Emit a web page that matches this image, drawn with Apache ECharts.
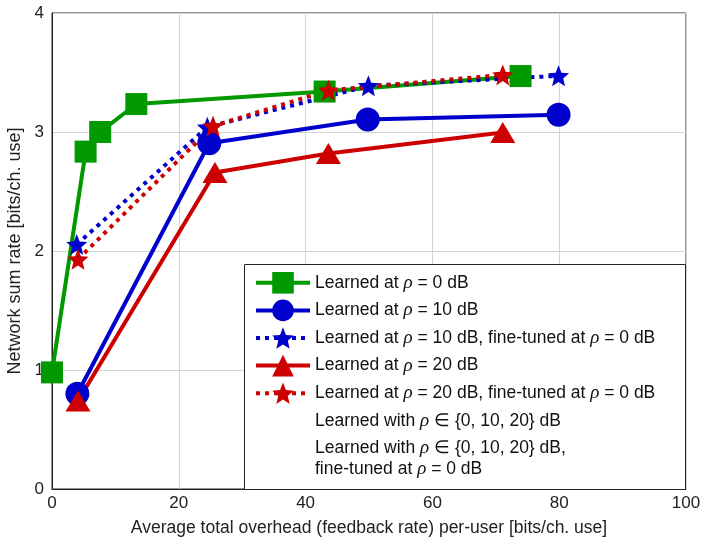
<!DOCTYPE html>
<html>
<head>
<meta charset="utf-8">
<script src="https://cdn.jsdelivr.net/npm/echarts@6/dist/echarts.min.js"></script>
<style>html,body{margin:0;padding:0;background:#fff}#c{width:702px;height:538px}</style>
</head>
<body>
<div id="c"></div>
<script>
// ---- data ----
const xTicks = [0, 20, 40, 60, 80, 100];
const yTicks = [0, 1, 2, 3, 4];
const seriesNames = [
  'Learned at rho=0',
  'Learned at rho=10',
  'Learned at rho=10 ft',
  'Learned at rho=20',
  'Learned at rho=20 ft',
  'Learned with set',
  'Learned with set ft'
];
const learned0 = [[0, 0.98], [5.3, 2.835], [7.6, 3.0], [13.3, 3.235], [43.0, 3.34], [73.9, 3.47]];
const learned10 = [[4.0, 0.80], [24.8, 2.905], [49.8, 3.105], [79.9, 3.145]];
const learned10ft = [[3.9, 2.055], [24.5, 3.04], [49.9, 3.388], [79.9, 3.472]];
const learned20 = [[4.1, 0.74], [25.7, 2.66], [43.6, 2.82], [71.1, 2.995]];
const learned20ft = [[4.1, 1.93], [25.4, 3.05], [43.6, 3.35], [71.1, 3.48]];
const learnedSet = [];
const learnedSetFt = [];

const legendLabels = {
  'Learned at rho=0': 'Learned at {i|ρ} = 0 dB',
  'Learned at rho=10': 'Learned at {i|ρ} = 10 dB',
  'Learned at rho=10 ft': 'Learned at {i|ρ} = 10 dB, fine-tuned at {i|ρ} = 0 dB',
  'Learned at rho=20': 'Learned at {i|ρ} = 20 dB',
  'Learned at rho=20 ft': 'Learned at {i|ρ} = 20 dB, fine-tuned at {i|ρ} = 0 dB',
  'Learned with set': 'Learned with {i|ρ} ∈ {0, 10, 20} dB',
  'Learned with set ft': 'Learned with {i|ρ} ∈ {0, 10, 20} dB,\nfine-tuned at {i|ρ} = 0 dB'
};

const GREEN = '#009900', BLUE = '#0000cc', RED = '#cc0000';
const FONT = 'Liberation Sans';

// five-pointed star path
function starPath() {
  const pts = [];
  const R = 10, r = 4.4;
  for (let i = 0; i < 10; i++) {
    const a = -Math.PI / 2 + i * Math.PI / 5;
    const rad = i % 2 === 0 ? R : r;
    pts.push((10 + rad * Math.cos(a)).toFixed(2) + ',' + (10 + rad * Math.sin(a)).toFixed(2));
  }
  return 'path://M' + pts.join('L') + 'Z';
}
const STAR = starPath();

function mk(name, data, color, symbol, size, dotted) {
  return {
    name: name, type: 'line', data: data,
    symbol: symbol, symbolSize: size, showSymbol: true,
    itemStyle: { color: color },
    lineStyle: { color: color, width: 4, type: dotted ? [4, 5] : 'solid', cap: 'butt' },
    emphasis: { disabled: true },
    animation: false, z: 3
  };
}

const series = [
  mk(seriesNames[0], learned0, GREEN, 'rect', 22, false),
  mk(seriesNames[1], learned10, BLUE, 'circle', 24, false),
  mk(seriesNames[2], learned10ft, BLUE, STAR, 21, true),
  mk(seriesNames[3], learned20, RED, 'triangle', [25, 21], false),
  mk(seriesNames[4], learned20ft, RED, STAR, 21, true),
  mk(seriesNames[5], learnedSet, 'rgba(0,0,0,0)', 'none', 1, false),
  mk(seriesNames[6], learnedSetFt, 'rgba(0,0,0,0)', 'none', 1, false)
];

const chart = echarts.init(document.getElementById('c'), null, { renderer: 'canvas' });
chart.setOption({
  animation: false,
  backgroundColor: '#fff',
  grid: {
    left: 52, right: 16, top: 13, bottom: 49, containLabel: false, outerBoundsMode: 'none',
    show: true, borderColor: '#222', borderWidth: 1, backgroundColor: 'transparent'
  },
  xAxis: {
    type: 'value', min: xTicks[0], max: xTicks[xTicks.length - 1], interval: 20,
    name: 'Average total overhead (feedback rate) per-user [bits/ch. use]',
    nameLocation: 'middle', nameGap: 30,
    nameTextStyle: { fontFamily: FONT, fontSize: 17.5, color: '#222' },
    axisLine: { show: true, lineStyle: { color: '#222', width: 1 } },
    axisTick: { show: false },
    axisLabel: { fontFamily: FONT, fontSize: 17, color: '#222', margin: 6 },
    splitLine: { show: true, lineStyle: { color: '#d4d4d4', width: 1 } }
  },
  yAxis: {
    type: 'value', min: yTicks[0], max: yTicks[yTicks.length - 1], interval: 1,
    name: 'Network sum rate [bits/ch. use]',
    nameLocation: 'middle', nameGap: 27,
    nameTextStyle: { fontFamily: FONT, fontSize: 18, color: '#222' },
    axisLine: { show: true, lineStyle: { color: '#222', width: 1 } },
    axisTick: { show: false },
    axisLabel: { fontFamily: FONT, fontSize: 17, color: '#222', margin: 8 },
    splitLine: { show: true, lineStyle: { color: '#d4d4d4', width: 1 } }
  },
  graphic: [{
    type: 'rect', left: 244, top: 264, z: 10,
    shape: { width: 441, height: 225 },
    style: { fill: '#fff', stroke: '#222', lineWidth: 1 }
  }],
  legend: {
    orient: 'vertical', left: 254, top: 272, z: 20,
    itemWidth: 54, itemHeight: 27, itemGap: 6,
    padding: 0,
    data: seriesNames,
    selectedMode: false,
    lineStyle: { width: 4 },
    formatter: function (n) { return legendLabels[n]; },
    textStyle: {
      fontFamily: FONT, fontSize: 17.5, color: '#111', lineHeight: 21,
      rich: { i: { fontFamily: 'Liberation Serif', fontStyle: 'italic', fontSize: 19, color: '#111' } }
    }
  },
  series: series
});
</script>
</body>
</html>
